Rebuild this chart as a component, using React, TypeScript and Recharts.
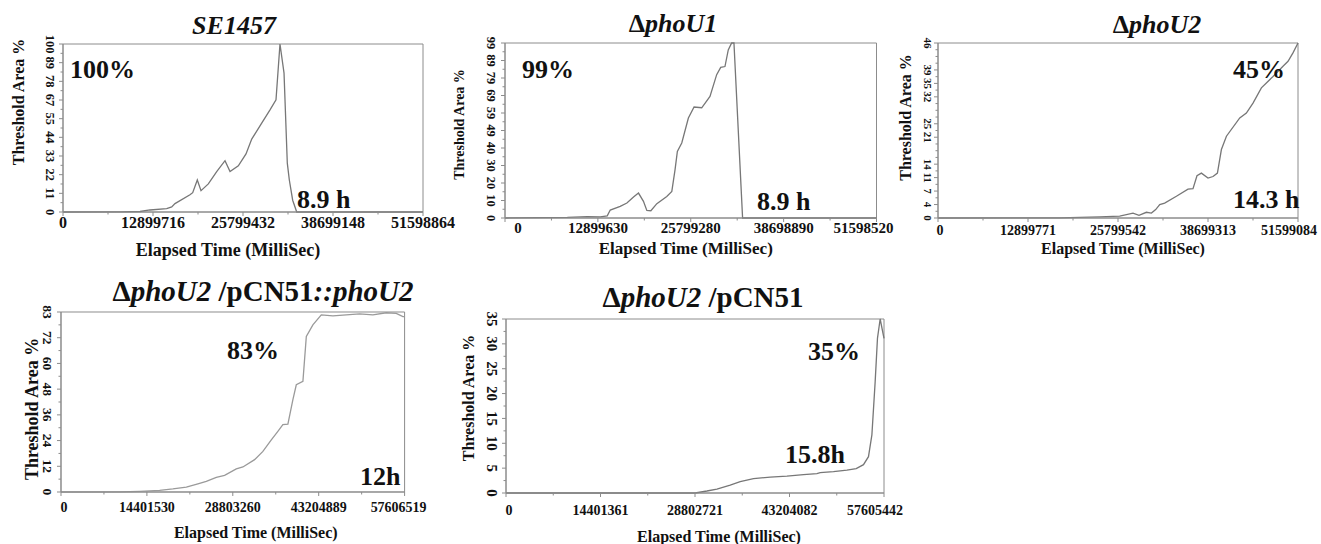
import React from 'react';
import { LineChart, Line, XAxis, YAxis, ReferenceArea } from 'recharts';

const FONT = '"Liberation Serif"';
const AXIS = '#8c8c8c';
const CURVE = '#777777';

// SE1457
const se1457Time = [0, 8170000, 11040000, 12470000, 14860000, 15580000, 16050000, 18200000, 18590000, 19250000, 19780000, 20830000, 22030000, 23220000, 23940000, 25130000, 26230000, 27050000, 28480000, 29670000, 30530000, 31100000, 31680000, 32150000, 32440000, 32920000, 33500000, 51598864];
const se1457Area = [0, 0.1, 0.3, 1.2, 2.0, 3.0, 5.0, 10.2, 11.5, 19, 12.7, 16.7, 24, 30.5, 24, 27.4, 34.5, 43.3, 52.8, 60.7, 66.7, 99.8, 82.5, 29, 19, 7, 0, 0];
const se1457XTicks = [0, 12899716, 25799432, 38699148, 51598864];
const se1457YTicks = [0, 11.09, 22.18, 33.27, 44.36, 55.44, 66.53, 77.62, 88.71, 99.8];

// phoU1 deletion
const phoU1Time = [0, 8660000, 11430000, 13230000, 14200000, 14620000, 16000000, 16930000, 17850000, 18540000, 19230000, 19700000, 20260000, 21090000, 22470000, 23170000, 23620000, 23940000, 24550000, 25470000, 26260000, 27320000, 28470000, 29400000, 29960000, 30550000, 31010000, 31480000, 31800000, 33000000, 51598520];
const phoU1Area = [0, 0.3, 0.8, 0.6, 1.2, 4.5, 6.6, 8.5, 11.9, 14.1, 9.4, 4.3, 4.1, 8.1, 12.2, 15, 27.3, 37.6, 42.4, 56.5, 62.7, 62.3, 68.7, 81, 85.1, 85.6, 95, 98.9, 98.9, 0, 0];
const phoU1XTicks = [0, 12899630, 25799280, 38698890, 51598520];
const phoU1YTicks = [0, 9.89, 19.78, 29.67, 39.56, 49.45, 59.34, 69.23, 79.12, 89.01, 98.9];

// phoU2 deletion
const phoU2Time = [0, 17440000, 20310000, 23180000, 26040000, 27950000, 28810000, 29870000, 30590000, 31200000, 31780000, 32490000, 34170000, 35830000, 36550000, 37120000, 37750000, 38700000, 39420000, 40050000, 40620000, 41340000, 43250000, 44200000, 45150000, 46350000, 48020000, 49450000, 50170000, 50880000, 51599084];
const phoU2Area = [0, 0.05, 0.15, 0.3, 0.5, 1.3, 0.7, 1.5, 1.3, 2.2, 3.5, 3.9, 5.7, 7.6, 7.7, 11.1, 11.8, 10.5, 10.9, 11.8, 18, 21.5, 26.3, 27.6, 30.2, 34.2, 37.2, 39.9, 41.2, 43.4, 46];
const phoU2XTicks = [0, 12899771, 25799542, 38699313, 51599084];
const phoU2YTicks = [0, 3.54, 7.08, 10.62, 14.15, 21.23, 24.77, 31.85, 35.38, 38.92, 46];
const phoU2YMinor = [1.77, 5.31, 8.85, 12.38, 15.92, 17.69, 19.46, 23, 26.54, 28.31, 30.08, 33.62, 37.15, 40.69, 42.46, 44.23];

// complemented strain
const compTime = [0, 9820000, 13180000, 16530000, 18760000, 21010000, 22950000, 24360000, 26040000, 27430000, 29390000, 30500000, 32460000, 33850000, 35260000, 36360000, 37200000, 38040000, 38880000, 39450000, 40560000, 41130000, 42230000, 43640000, 45590000, 47830000, 50060000, 52290000, 54540000, 56210000, 57320000, 57606519];
const compArea = [0, 0.05, 0.3, 0.75, 1.4, 2.3, 3.8, 4.9, 6.8, 7.7, 10.7, 11.6, 15, 18.8, 24.2, 28.1, 31.2, 31.5, 42.8, 49.7, 51.3, 72.1, 77.5, 82.1, 81.7, 82.1, 82.6, 82.1, 83.1, 82.8, 81.3, 81.3];
const compXTicks = [0, 14401530, 28803260, 43204889, 57606519];
const compYTicks = [0, 11.92, 23.84, 35.76, 47.69, 59.61, 71.53, 83.45];

// empty vector
const vecTime = [0, 28830000, 30620000, 32140000, 34170000, 35690000, 37720000, 40260000, 42810000, 45340000, 47380000, 47880000, 49910000, 51950000, 53370000, 54480000, 55240000, 55760000, 56260000, 56610000, 57020000, 57605442];
const vecArea = [0, 0, 0.4, 0.8, 1.6, 2.3, 2.9, 3.2, 3.4, 3.7, 3.9, 4.1, 4.3, 4.6, 4.9, 5.7, 7.3, 11.7, 22.4, 31.1, 35, 31.1];
const vecXTicks = [0, 14401361, 28802721, 43204082, 57605442];
const vecYTicks = [0, 5, 10, 15, 20, 25, 30, 35];

const ML = 60;
const MR = 45;
const MT = 16;
const MB = 60;

type Plot = { l: number; t: number; r: number; b: number };

interface PanelProps {
  time: number[];
  area: number[];
  plot: Plot;
  xTicks: number[];
  yTicks: number[];
  yMinor?: number[];
  xFont: number;
  yFont: number;
  xGap: number;
  yGap: number;
  firstDx: number;
  lastDx: number;
  yTitleFont: number;
  yTitleGap: number;
  yTitleDy: number;
  xTitleFont: number;
  xTitleGap: number;
  xTitleDx: number;
  stroke?: string;
}

const midpoints = (arr: number[]) => arr.slice(1).map((v, i) => (v + arr[i]) / 2);

const Panel = (p: PanelProps) => {
  const w = p.plot.r - p.plot.l;
  const h = p.plot.b - p.plot.t;
  const rows = p.time.map((t, i) => ({ t, v: p.area[i] }));
  const xMax = p.xTicks[p.xTicks.length - 1];
  const yMax = p.yTicks[p.yTicks.length - 1];
  const xAll = [...p.xTicks, ...midpoints(p.xTicks)].sort((a, b) => a - b);
  const yAll = [...p.yTicks, ...(p.yMinor ?? midpoints(p.yTicks))].sort((a, b) => a - b);

  const xTick = (props: any) => {
    const { x, y, payload } = props;
    const idx = p.xTicks.indexOf(payload.value);
    const major = idx >= 0;
    const dx = idx === 0 ? p.firstDx : idx === p.xTicks.length - 1 ? p.lastDx : 0;
    return (
      <g>
        <line x1={x} x2={x} y1={y} y2={y + (major ? 4 : 2.5)} stroke={AXIS} />
        {major && (
          <text x={x + dx} y={y + p.xGap} textAnchor="middle" dominantBaseline="central"
            fontFamily={FONT} fontWeight="bold" fontSize={p.xFont} fill="#111">
            {payload.value}
          </text>
        )}
      </g>
    );
  };

  const yTick = (props: any) => {
    const { x, y, payload } = props;
    const major = p.yTicks.includes(payload.value);
    const tx = x - p.yGap;
    return (
      <g>
        <line x1={x} x2={x - (major ? 4 : 2.5)} y1={y} y2={y} stroke={AXIS} />
        {major && (
          <text x={tx} y={y} transform={`rotate(90 ${tx} ${y})`} textAnchor="middle" dominantBaseline="central"
            fontFamily={FONT} fontWeight="bold" fontSize={p.yFont} fill="#111">
            {Math.round(payload.value)}
          </text>
        )}
      </g>
    );
  };

  const yTitle = () => {
    const cx = ML - p.yTitleGap;
    const cy = MT + h / 2 + p.yTitleDy;
    return (
      <text x={cx} y={cy} transform={`rotate(-90 ${cx} ${cy})`} textAnchor="middle" dominantBaseline="central"
        fontFamily={FONT} fontWeight="bold" fontSize={p.yTitleFont} fill="#111">
        Threshold Area %
      </text>
    );
  };

  const xTitle = () => (
    <text x={ML + w / 2 + p.xTitleDx} y={MT + h + p.xTitleGap} textAnchor="middle" dominantBaseline="central"
      fontFamily={FONT} fontWeight="bold" fontSize={p.xTitleFont} fill="#111">
      Elapsed Time (MilliSec)
    </text>
  );

  return (
    <div style={{ position: 'absolute', left: p.plot.l - ML, top: p.plot.t - MT }}>
      <LineChart width={w + ML + MR} height={h + MT + MB} data={rows}
        margin={{ top: MT, right: MR, left: 0, bottom: 0 }}>
        <XAxis type="number" dataKey="t" domain={[0, xMax]} ticks={xAll} interval={0}
          tickSize={0} tickMargin={0} height={MB} stroke={AXIS} tick={xTick} label={xTitle} />
        <YAxis type="number" domain={[0, yMax]} ticks={yAll} interval={0}
          tickSize={0} tickMargin={0} width={ML} stroke={AXIS} tick={yTick} label={yTitle} />
        <ReferenceArea x1={0} x2={xMax} y1={0} y2={yMax} fill="none" stroke={AXIS} strokeWidth={1} />
        <Line type="linear" dataKey="v" stroke={p.stroke ?? CURVE} strokeWidth={1.3} dot={false}
          activeDot={false} isAnimationActive={false} />
      </LineChart>
    </div>
  );
};

const Txt = ({ x, y, size, middle, children }: { x: number; y: number; size: number; middle?: boolean; children: React.ReactNode }) => (
  <div style={{
    position: 'absolute', left: x, top: y - size * 0.5, fontSize: size, lineHeight: 1,
    fontWeight: 'bold', fontFamily: FONT, whiteSpace: 'nowrap', color: '#111',
    transform: middle ? 'translateX(-50%)' : undefined,
  }}>
    {children}
  </div>
);

export default function App() {
  return (
    <div style={{ position: 'absolute', left: 0, top: 0, width: 1321, height: 544, overflow: 'hidden', background: '#fff', fontFamily: FONT }}>
      <Panel time={se1457Time} area={se1457Area} plot={{ l: 63, t: 44, r: 423, b: 212 }}
        xTicks={se1457XTicks} yTicks={se1457YTicks} xFont={16} yFont={12.5} xGap={10} yGap={13}
        firstDx={0} lastDx={0} yTitleFont={16} yTitleGap={45} yTitleDy={-26}
        xTitleFont={18} xTitleGap={38} xTitleDx={-15} />
      <Panel time={phoU1Time} area={phoU1Area} plot={{ l: 504.5, t: 43.3, r: 876, b: 218.3 }}
        xTicks={phoU1XTicks} yTicks={phoU1YTicks} xFont={15} yFont={12.5} xGap={10} yGap={14}
        firstDx={13} lastDx={-13} yTitleFont={14} yTitleGap={46} yTitleDy={-6}
        xTitleFont={17} xTitleGap={30} xTitleDx={-5} />
      <Panel time={phoU2Time} area={phoU2Area} plot={{ l: 938, t: 43, r: 1298, b: 218 }}
        xTicks={phoU2XTicks} yTicks={phoU2YTicks} yMinor={phoU2YMinor} xFont={14} yFont={11} xGap={12} yGap={10}
        firstDx={2} lastDx={-9} yTitleFont={16} yTitleGap={33} yTitleDy={-13}
        xTitleFont={16} xTitleGap={30} xTitleDx={5} />
      <Panel time={compTime} area={compArea} plot={{ l: 61.4, t: 312, r: 405, b: 492 }}
        xTicks={compXTicks} yTicks={compYTicks} xFont={14} yFont={13.5} xGap={16} yGap={14}
        firstDx={3} lastDx={-6} yTitleFont={18} yTitleGap={29} yTitleDy={7}
        xTitleFont={16} xTitleGap={41} xTitleDx={23} stroke="#9a9a9a" />
      <Panel time={vecTime} area={vecArea} plot={{ l: 506, t: 319, r: 884, b: 493 }}
        xTicks={vecXTicks} yTicks={vecYTicks} xFont={14} yFont={15} xGap={17} yGap={14}
        firstDx={3} lastDx={-9} yTitleFont={16} yTitleGap={38} yTitleDy={-8}
        xTitleFont={16} xTitleGap={43} xTitleDx={24} />

      <Txt x={234} y={26} size={26} middle><i>SE1457</i></Txt>
      <Txt x={673} y={24} size={26} middle>Δ<i>phoU1</i></Txt>
      <Txt x={1157} y={25} size={26} middle>Δ<i>phoU2</i></Txt>
      <Txt x={263} y={291} size={29} middle>Δ<i>phoU2</i> /pCN51<i>::phoU2</i></Txt>
      <Txt x={703} y={297} size={29} middle>Δ<i>phoU2</i> /pCN51</Txt>

      <Txt x={70} y={70} size={26}>100%</Txt>
      <Txt x={297} y={200} size={26}>8.9 h</Txt>
      <Txt x={522} y={70} size={26}>99%</Txt>
      <Txt x={757} y={202} size={26}>8.9 h</Txt>
      <Txt x={1233} y={70} size={26}>45%</Txt>
      <Txt x={1233} y={200} size={26}>14.3 h</Txt>
      <Txt x={227} y={351} size={26}>83%</Txt>
      <Txt x={360} y={477} size={26}>12h</Txt>
      <Txt x={808} y={352} size={26}>35%</Txt>
      <Txt x={785} y={455} size={26}>15.8h</Txt>
    </div>
  );
}
